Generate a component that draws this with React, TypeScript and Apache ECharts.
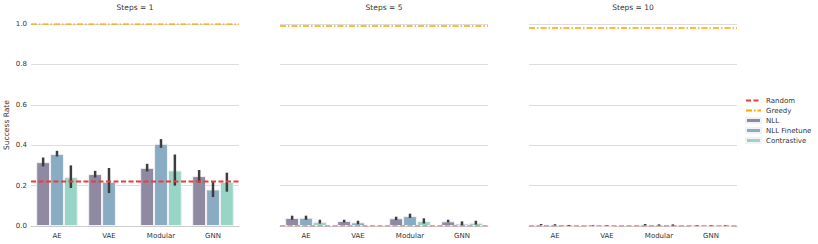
import React, { useEffect, useRef } from "react";
import * as echarts from "echarts";

const categories = ["AE", "VAE", "Modular", "GNN"];
const panelTitles = ["Steps = 1", "Steps = 5", "Steps = 10"];
const yTicks = [0, 0.2, 0.4, 0.6, 0.8, 1.0];
const methods = ["NLL", "NLL Finetune", "Contrastive"];

const randomBaseline = [0.22, 0.001, 0.001];
const greedyBaseline = [1.0, 0.99, 0.98];

// Steps = 1
const nll1 = [0.316, 0.257, 0.288, 0.247];
const nll1Lo = [0.295, 0.24, 0.27, 0.214];
const nll1Hi = [0.339, 0.273, 0.308, 0.277];
const fin1 = [0.357, 0.219, 0.407, 0.181];
const fin1Lo = [0.344, 0.163, 0.387, 0.143];
const fin1Hi = [0.372, 0.287, 0.43, 0.22];
const con1 = [0.242, null, 0.275, 0.219];
const con1Lo = [0.188, null, 0.2, 0.17];
const con1Hi = [0.3, null, 0.354, 0.264];

// Steps = 5
const nll5 = [0.04, 0.025, 0.038, 0.023];
const nll5Lo = [0.031, 0.018, 0.029, 0.018];
const nll5Hi = [0.051, 0.031, 0.046, 0.031];
const fin5 = [0.041, 0.018, 0.049, 0.012];
const fin5Lo = [0.031, 0.009, 0.04, 0.003];
const fin5Hi = [0.051, 0.026, 0.061, 0.023];
const con5 = [0.021, null, 0.025, 0.016];
const con5Lo = [0.012, null, 0.012, 0.007];
const con5Hi = [0.031, null, 0.038, 0.026];

// Steps = 10
const nll10 = [0.007, 0.001, 0.006, 0.001];
const nll10Lo = [0.004, 0.0, 0.003, 0.0];
const nll10Hi = [0.01, 0.003, 0.01, 0.003];
const fin10 = [0.006, 0.001, 0.005, 0.001];
const fin10Lo = [0.003, 0.0, 0.002, 0.0];
const fin10Hi = [0.009, 0.003, 0.008, 0.003];
const con10 = [0.002, null, 0.004, 0.001];
const con10Lo = [0.0, null, 0.001, 0.0];
const con10Hi = [0.005, null, 0.008, 0.003];

const panels = [
  { means: [nll1, fin1, con1], lo: [nll1Lo, fin1Lo, con1Lo], hi: [nll1Hi, fin1Hi, con1Hi] },
  { means: [nll5, fin5, con5], lo: [nll5Lo, fin5Lo, con5Lo], hi: [nll5Hi, fin5Hi, con5Hi] },
  { means: [nll10, fin10, con10], lo: [nll10Lo, fin10Lo, con10Lo], hi: [nll10Hi, fin10Hi, con10Hi] },
];

const barColors = ["#8f89a2", "#8aacc3", "#98d5c6"];
const randomColor = "#f03a3a";
const greedyColor = "#ffa500";
const textColor = "#333333";
const FONT = "DejaVu Sans";

export default function App() {
  const ref = useRef<HTMLDivElement>(null);
  useEffect(() => {
    if (!ref.current) return;
    const chart = echarts.init(ref.current, undefined, { renderer: "svg" });
    const lefts = [31, 280, 529];
    const gridW = 208;
    const grids: any[] = [];
    const xAxes: any[] = [];
    const yAxes: any[] = [];
    const series: any[] = [];
    const titles: any[] = [];

    panels.forEach((p, pi) => {
      grids.push({ left: lefts[pi], width: gridW, top: 24, height: 202 });
      titles.push({
        text: panelTitles[pi],
        left: lefts[pi] + gridW / 2,
        top: 3,
        padding: 0,
        textAlign: "center",
        textStyle: { fontSize: 7.5, fontWeight: "normal", color: textColor, fontFamily: FONT },
      });
      xAxes.push({
        type: "category",
        gridIndex: pi,
        data: categories,
        axisLine: { lineStyle: { color: "#cccccc", width: 1 } },
        axisTick: { show: false },
        axisLabel: { fontSize: 7, color: textColor, fontFamily: FONT, margin: 6 },
      });
      xAxes.push({
        type: "value",
        gridIndex: pi,
        min: 0,
        max: 1,
        show: false,
      });
      yAxes.push({
        type: "value",
        gridIndex: pi,
        min: 0,
        max: 1,
        interval: 0.2,
        name: pi === 0 ? "Success Rate" : "",
        nameLocation: "middle",
        nameGap: 21,
        nameTextStyle: { fontSize: 7.5, color: textColor, fontFamily: FONT },
        axisLine: { show: false },
        axisTick: { show: false },
        axisLabel: {
          show: pi === 0,
          fontSize: 7,
          color: textColor,
          fontFamily: FONT,
          margin: 4,
          formatter: (v: number) => (yTicks.includes(Math.round(v * 10) / 10) ? v.toFixed(1) : ""),
        },
        splitLine: { lineStyle: { color: "#dddddd", width: 1 } },
      });
      const xCat = pi * 2;
      const xVal = pi * 2 + 1;
      p.means.forEach((arr, mi) => {
        series.push({
          type: "bar",
          name: methods[mi],
          xAxisIndex: xCat,
          yAxisIndex: pi,
          data: arr.map((v) => (v === null ? "-" : v)),
          barGap: "0%",
          barCategoryGap: "20%",
          itemStyle: { color: barColors[mi], borderColor: "#f2f2f6", borderWidth: 1 },
          z: 2,
        });
      });
      p.means.forEach((arr, mi) => {
        const errData: any[] = [];
        arr.forEach((v, ci) => {
          if (v === null) return;
          errData.push([ci, p.lo[mi][ci], p.hi[mi][ci]]);
        });
        series.push({
          type: "custom",
          name: "err" + pi + "_" + mi,
          xAxisIndex: xCat,
          yAxisIndex: pi,
          data: errData,
          z: 4,
          renderItem: (params: any, api: any) => {
            const ci = api.value(0);
            const a = api.coord([ci, api.value(1)]);
            const b = api.coord([ci, api.value(2)]);
            const band = api.size([1, 0])[0];
            const bw = (band * 0.8) / 3;
            const x = a[0] + (mi - 1) * bw;
            return {
              type: "line",
              shape: { x1: x, y1: a[1], x2: x, y2: b[1] },
              style: { stroke: "#3d3d3d", lineWidth: 2.5 },
            };
          },
        });
      });
      series.push({
        type: "line",
        name: "Random",
        xAxisIndex: xVal,
        yAxisIndex: pi,
        data: [[0, randomBaseline[pi]], [1, randomBaseline[pi]]],
        symbol: "none",
        lineStyle: {
          color: pi === 0 ? randomColor : "rgba(240,58,58,0.5)",
          width: pi === 0 ? 2 : 1.5,
          type: [5, 2.5],
        },
        itemStyle: { color: randomColor },
        z: 5,
        silent: true,
      });
      series.push({
        type: "line",
        name: "Greedy",
        xAxisIndex: xVal,
        yAxisIndex: pi,
        data: [[0, greedyBaseline[pi]], [1, greedyBaseline[pi]]],
        symbol: "none",
        lineStyle: { color: greedyColor, width: 1.6, type: [6, 2, 1.5, 2] },
        itemStyle: { color: greedyColor },
        z: 5,
        silent: true,
      });
    });

    chart.setOption({
      animation: false,
      textStyle: { fontFamily: FONT },
      title: titles,
      grid: grids,
      xAxis: xAxes,
      yAxis: yAxes,
      legend: {
        orient: "vertical",
        left: 745,
        top: 97,
        padding: 0,
        itemWidth: 15,
        itemHeight: 5,
        itemGap: 3,
        textStyle: { fontSize: 7, color: textColor, fontFamily: FONT, padding: [0, 0, 0, 0] },
        data: [
          { name: "Random", itemStyle: { opacity: 0 } },
          { name: "Greedy", itemStyle: { opacity: 0 } },
          { name: "NLL", icon: "rect" },
          { name: "NLL Finetune", icon: "rect" },
          { name: "Contrastive", icon: "rect" },
        ],
        selectedMode: false,
      },
      series,
    });
    return () => chart.dispose();
  }, []);
  return (
    <div
      ref={ref}
      style={{ position: "fixed", left: 0, top: 0, width: 818, height: 244, background: "#fff" }}
    />
  );
}
